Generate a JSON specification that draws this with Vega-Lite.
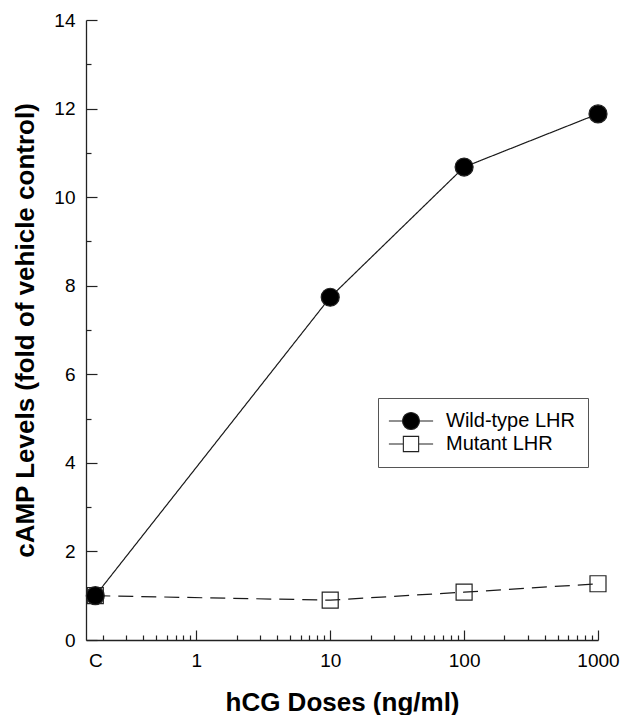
{
  "$schema": "https://vega.github.io/schema/vega-lite/v6.json",
  "width": 512,
  "height": 620,
  "autosize": {"type": "none"},
  "padding": {"left": 86, "top": 20, "right": 24, "bottom": 75},
  "background": "white",
  "config": {
    "view": {"stroke": null},
    "font": "Liberation Sans",
    "axis": {
      "domainColor": "#222",
      "domainWidth": 1.3,
      "tickColor": "#222",
      "tickWidth": 1.2,
      "labelFont": "Liberation Sans",
      "labelFontSize": 19,
      "labelColor": "#000",
      "titleFont": "Liberation Sans",
      "titleFontSize": 26,
      "titleFontWeight": "bold",
      "titleColor": "#000",
      "grid": false,
      "labelOverlap": false,
      "labelFlush": false,
      "labelBound": false
    },
    "legend": {
      "orient": "none",
      "legendX": 292,
      "legendY": 378,
      "padding": 13,
      "strokeColor": "#555",
      "symbolSize": 289,
      "symbolOffset": 10,
      "labelOffset": 25,
      "rowPadding": 2,
      "labelFont": "Liberation Sans",
      "labelFontSize": 20,
      "labelColor": "#000",
      "symbolOpacity": 1,
      "symbolStrokeWidth": 1.1
    }
  },
  "data": {
    "values": [
      {"series": "Mutant LHR", "dose": 0.176, "camp": 1.0},
      {"series": "Mutant LHR", "dose": 10, "camp": 0.9},
      {"series": "Mutant LHR", "dose": 100, "camp": 1.08},
      {"series": "Mutant LHR", "dose": 1000, "camp": 1.27},
      {"series": "Wild-type LHR", "dose": 0.176, "camp": 1.0},
      {"series": "Wild-type LHR", "dose": 10, "camp": 7.74},
      {"series": "Wild-type LHR", "dose": 100, "camp": 10.68},
      {"series": "Wild-type LHR", "dose": 1000, "camp": 11.88}
    ]
  },
  "encoding": {
    "x": {
      "field": "dose",
      "type": "quantitative",
      "scale": {"type": "log", "domain": [0.15, 1000], "nice": false, "zero": false},
      "axis": {
        "title": "hCG Doses (ng/ml)",
        "titlePadding": 14,
        "labelFontSize": 19,
        "values": [0.176, 0.2, 0.3, 0.4, 0.5, 0.6, 0.7, 0.8, 0.9, 1, 2, 3, 4, 5, 6, 7, 8, 9, 10, 20, 30, 40, 50, 60, 70, 80, 90, 100, 200, 300, 400, 500, 600, 700, 800, 900, 1000],
        "labelExpr": "datum.value < 0.19 ? 'C' : (datum.value == 1 || datum.value == 10 || datum.value == 100 || datum.value == 1000) ? format(datum.value, 'd') : ''",
        "tickSize": {"condition": {"test": "datum.value < 0.19 || datum.value == 1 || datum.value == 10 || datum.value == 100 || datum.value == 1000", "value": -10}, "value": -5},
        "tickOpacity": {"condition": {"test": "datum.value < 0.19", "value": 0}, "value": 1},
        "labelPadding": 21
      }
    },
    "y": {
      "field": "camp",
      "type": "quantitative",
      "scale": {"domain": [0, 14], "nice": false},
      "axis": {
        "title": "cAMP Levels (fold of vehicle control)",
        "titlePadding": 15,
        "labelFontSize": 19,
        "values": [0, 1, 2, 3, 4, 5, 6, 7, 8, 9, 10, 11, 12, 13, 14],
        "labelExpr": "datum.value % 2 == 0 ? datum.value : ''",
        "tickSize": {"condition": {"test": "datum.value % 2 == 0", "value": -11}, "value": -5},
        "labelPadding": 22
      }
    }
  },
  "layer": [
    {
      "mark": {"type": "point", "filled": false, "opacity": 0, "stroke": "#222", "color": "#222", "strokeWidth": 1.1},
      "encoding": {
        "shape": {
          "field": "series",
          "type": "nominal",
          "scale": {
            "domain": ["Wild-type LHR", "Mutant LHR"],
            "range": ["M-2.6,0L-1,0M1,0L2.6,0M-1,0A1,1,0,1,1,1,0A1,1,0,1,1,-1,0Z", "M-2.6,0L-0.9,0M0.9,0L2.6,0M-0.9,-0.9L0.9,-0.9L0.9,0.9L-0.9,0.9Z"]
          },
          "legend": {"title": null}
        },
        "fill": {
          "field": "series",
          "type": "nominal",
          "scale": {"domain": ["Wild-type LHR", "Mutant LHR"], "range": ["#000000", "transparent"]},
          "legend": {"title": null}
        }
      }
    },
    {
      "mark": {"type": "line", "color": "#1a1a1a", "strokeWidth": 1.2},
      "encoding": {
        "detail": {"field": "series"},
        "strokeDash": {"condition": {"test": "datum.series === 'Mutant LHR'", "value": [15, 8]}, "value": [1, 0]}
      }
    },
    {
      "mark": {"type": "point", "stroke": "#222", "strokeWidth": 1.2, "opacity": 1},
      "encoding": {
        "shape": {"condition": {"test": "datum.series === 'Wild-type LHR'", "value": "circle"}, "value": "square"},
        "fill": {"condition": {"test": "datum.series === 'Wild-type LHR'", "value": "#000000"}, "value": "transparent"},
        "size": {"condition": {"test": "datum.series === 'Wild-type LHR'", "value": 324}, "value": 256}
      }
    }
  ]
}
